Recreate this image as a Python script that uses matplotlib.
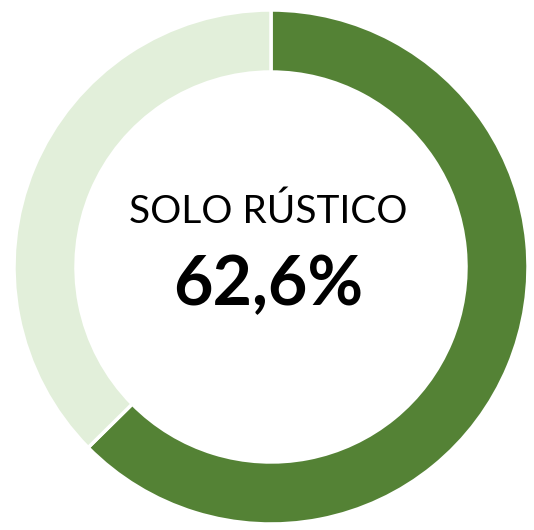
import matplotlib
matplotlib.use("Agg")
import matplotlib.pyplot as plt

labels = ["Solo rústico", "Resto"]
shares = [62.6, 37.4]
colors = ["#548235", "#E2EFDA"]
title = "SOLO RÚSTICO"
value_text = "62,6%"

fig = plt.figure(figsize=(5.34, 5.30), dpi=100)
ax = fig.add_axes([0, 0, 1, 1])

# ring, dark share starts at 12 o'clock and runs clockwise
ax.pie(shares, colors=colors, startangle=90, counterclock=False,
       center=(271, 263), radius=257,
       wedgeprops=dict(width=62, edgecolor="white", linewidth=2.5))

ax.text(268, 318, title, ha="center", va="center",
        fontsize=28, family="Lato", color="black")
ax.text(268, 244, value_text, ha="center", va="center",
        fontsize=49, family="Lato", fontweight="bold", color="black")

ax.set_xlim(0, 534)
ax.set_ylim(0, 530)
ax.set_aspect("equal")
ax.axis("off")

fig.savefig("out.png", dpi=100, facecolor="white")
